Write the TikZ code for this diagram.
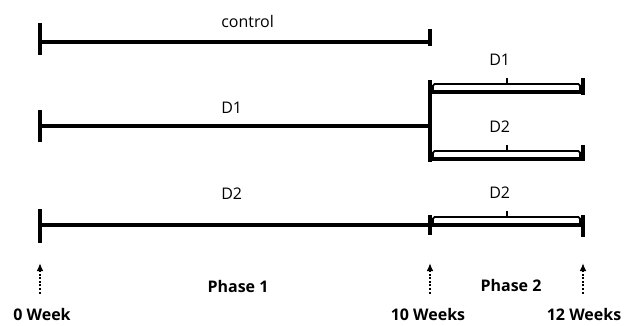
\documentclass[tikz,border=0pt]{standalone}
\usepackage{fontspec}
\setmainfont{Open Sans}
\usetikzlibrary{positioning, arrows.meta}

\tikzset{
    bar/.style={line width=2.6pt},
    brk/.style={line width=1.3pt, rounded corners=1.2pt},
    lbl/.style={font=\fontsize{12}{14}\selectfont, inner sep=0pt, anchor=base west},
    wk/.style={font=\bfseries\fontsize{12}{14}\selectfont, inner sep=0pt, anchor=base},
    tip/.style={-{Latex[length=6pt,width=5pt]}, line width=1.8pt, dash pattern=on 1.5pt off 1.2pt},
}

\begin{document}
\begin{tikzpicture}[x=0.75pt, y=-0.75pt]
    \useasboundingbox (0,0) rectangle (627,325);

    \coordinate (c0) at (40,42);  \coordinate (c1) at (430,42);
    \coordinate (a0) at (40,126); \coordinate (a1) at (430,126);
    \coordinate (u0) at (430,92); \coordinate (u1) at (583,92);
    \coordinate (l0) at (430,159); \coordinate (l1) at (583,159);
    \coordinate (b0) at (40,225); \coordinate (b1) at (430,225); \coordinate (b2) at (583,225);

    % control
    \draw[bar] (c0) -- (c1);
    \draw[bar] (c0) ++(0,-19) -- ++(0,32);
    \draw[bar] (c1) ++(0,-13) -- ++(0,17);
    \node[lbl] (ctl) at (221,27) {control};

    % D1, then split
    \draw[bar] (a0) -- (a1);
    \draw[bar] (a0) ++(0,-16) -- ++(0,32);
    \draw[bar] (u0) ++(0,-12) -- ++(0,82);
    \draw[bar] (u0) -- (u1);
    \draw[bar] (u1) ++(0,-14) -- ++(0,17);
    \draw[bar] (l0) -- (l1);
    \draw[bar] (l1) ++(0,-14) -- ++(0,16);
    \node[lbl] (dA) at (221,113) {D1};

    % D2
    \draw[bar] (b0) -- (b2);
    \draw[bar] (b0) ++(0,-16) -- ++(0,34);
    \draw[bar] (b1) ++(0,-10) -- ++(0,20);
    \draw[bar] (b2) ++(0,-10) -- ++(0,22);
    \node[lbl] (dB) at (221,199) {D2};

    % phase 2 brackets
    \foreach \y/\t in {92/D1,159/D2,225/D2} {
        \draw[brk] (433,\y-1) -- (433,\y-8) -- (580,\y-8) -- (580,\y-1);
        \draw[brk] (507,\y-8) -- (507,\y-14);
        \node[lbl] at (489,\y-27) {\t};
    }

    % time axis
    \node[wk] (w0) at (42,320) {0 Week};
    \node[wk] (w1) at (428,320) {10 Weeks};
    \node[wk] (w2) at (584,320) {12 Weeks};
    \node[wk] (ph1) at (238,292) {Phase 1};
    \node[wk] (ph2) at (511,291) {Phase 2};

    \coordinate (p0) at (40,263);
    \coordinate (p1) at (430,263);
    \coordinate (p2) at (583,263);
    \draw[tip] (p0 |- w0.north) ++(0,-14) -- (p0);
    \draw[tip] (p1 |- w1.north) ++(0,-14) -- (p1);
    \draw[tip] (p2 |- w2.north) ++(0,-14) -- (p2);
\end{tikzpicture}
\end{document}
